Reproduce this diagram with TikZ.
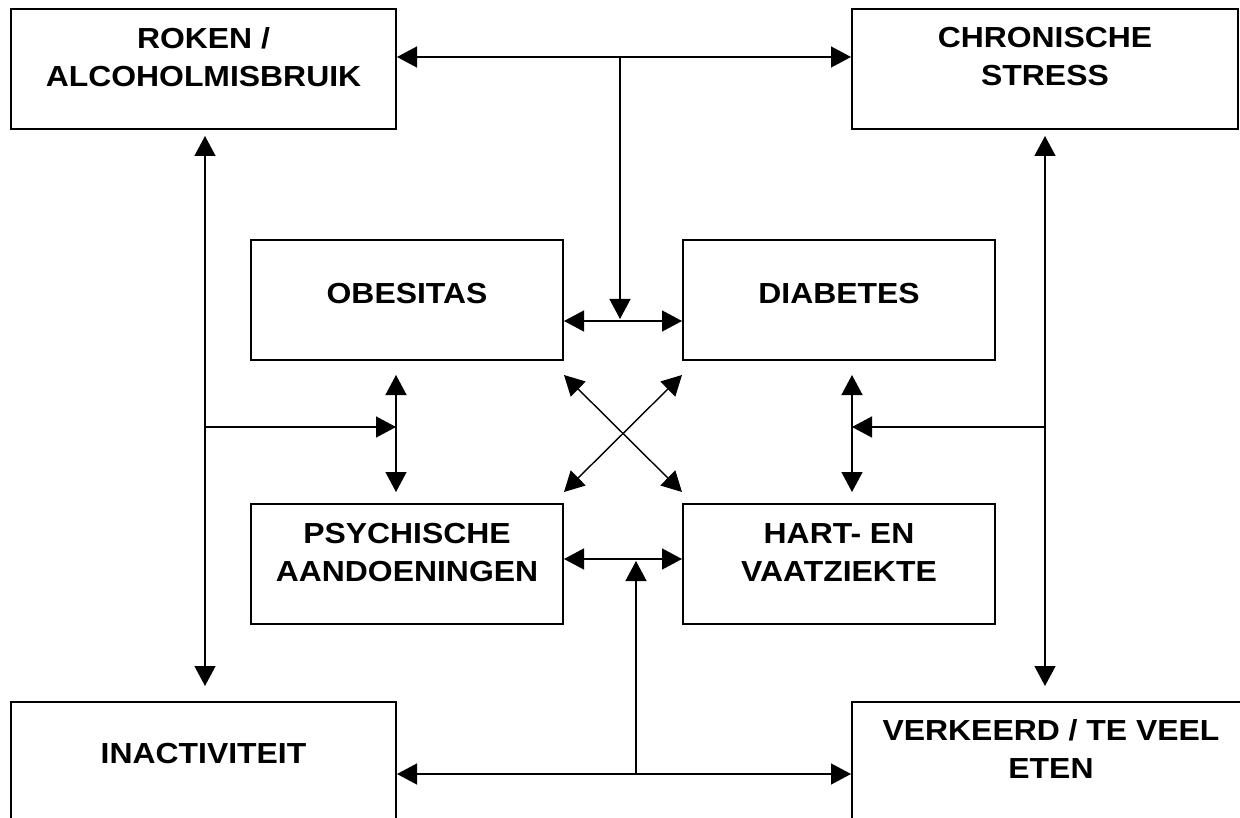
\documentclass[tikz,border=0pt]{standalone}
\usepackage{fontspec}
\setmainfont{Liberation Sans}[FakeStretch=1.1]
\usetikzlibrary{arrows.meta}

\begin{document}
\begin{tikzpicture}[x=1pt, y=-1pt,
    blok/.style={draw, line width=2pt, minimum width=385pt, minimum height=120pt, inner sep=0pt},
    middenblok/.style={blok, minimum width=312pt},
    tekst/.style={align=center, inner sep=0pt, font=\fontsize{29}{38}\selectfont\bfseries},
    pijl/.style={line width=1.4pt, -{Triangle[length=20pt, width=21pt]}},
    pijl2/.style={line width=1.4pt, {Triangle[length=20pt, width=21pt]}-{Triangle[length=20pt, width=21pt]}}]
    \useasboundingbox (0,0) rectangle (1240,818);

    \node[blok] (roken) at (203.5,69) {};
    \node[blok, minimum width=386pt] (stress) at (1045,69) {};
    \node[middenblok] (obesitas) at (407,300) {};
    \node[middenblok] (diabetes) at (839,300) {};
    \node[middenblok] (psychisch) at (407,564) {};
    \node[middenblok] (hart) at (839,564) {};
    \node[blok] (inactiviteit) at (203.5,762) {};
    \node[blok, minimum width=398pt] (eten) at (1051,762) {};

    \node[tekst] (roken-t) at ([yshift=12pt]roken.center) {ROKEN /\\ALCOHOLMISBRUIK};
    \node[tekst] (stress-t) at ([yshift=12pt]stress.center) {CHRONISCHE\\STRESS};
    \node[tekst] (obesitas-t) at ([yshift=6.5pt]obesitas.center) {OBESITAS};
    \node[tekst] (diabetes-t) at ([yshift=6.5pt]diabetes.center) {DIABETES};
    \node[tekst] (psychisch-t) at ([yshift=11.5pt]psychisch.center) {PSYCHISCHE\\AANDOENINGEN};
    \node[tekst] (hart-t) at ([yshift=11.5pt]hart.center) {HART- EN\\VAATZIEKTE};
    \node[tekst] (inactiviteit-t) at ([yshift=8pt]inactiviteit.center) {INACTIVITEIT};
    \node[tekst] (eten-t) at ([yshift=13pt]eten.center) {VERKEERD / TE VEEL\\ETEN};

    \coordinate (boven) at (620,57);
    \coordinate (k1) at (620,321);
    \coordinate (links) at (205,427);
    \coordinate (lmid) at (396,427);
    \coordinate (rechts) at (1045,427);
    \coordinate (rmid) at (852,427);
    \coordinate (onder) at (636,774);
    \coordinate (k2) at (636,559);

    \draw[pijl2] (roken.east |- boven) -- (stress.west |- boven);
    \draw[pijl] (boven) -- ([yshift=2pt]k1);
    \draw[pijl2] (obesitas.east |- k1) -- (diabetes.west |- k1);

    \draw[pijl2, shorten <=6pt, shorten >=15pt] (roken.south -| links) -- (inactiviteit.north -| links);
    \draw[pijl] (links) -- (lmid);
    \draw[pijl2, shorten <=14pt, shorten >=11pt] (obesitas.south -| lmid) -- (psychisch.north -| lmid);

    \draw[pijl2, shorten <=6pt, shorten >=15pt] (stress.south -| rechts) -- (eten.north -| rechts);
    \draw[pijl] (rechts) -- (rmid);
    \draw[pijl2, shorten <=14pt, shorten >=11pt] (diabetes.south -| rmid) -- (hart.north -| rmid);

    \draw[pijl2] ([yshift=-14pt]obesitas.south east) -- ([yshift=11pt]hart.north west);
    \draw[pijl2] ([yshift=-14pt]diabetes.south west) -- ([yshift=11pt]psychisch.north east);

    \draw[pijl2] (inactiviteit.east |- onder) -- (eten.west |- onder);
    \draw[pijl] (onder) -- ([yshift=-2pt]k2);
    \draw[pijl2] (psychisch.east |- k2) -- (hart.west |- k2);
\end{tikzpicture}
\end{document}
